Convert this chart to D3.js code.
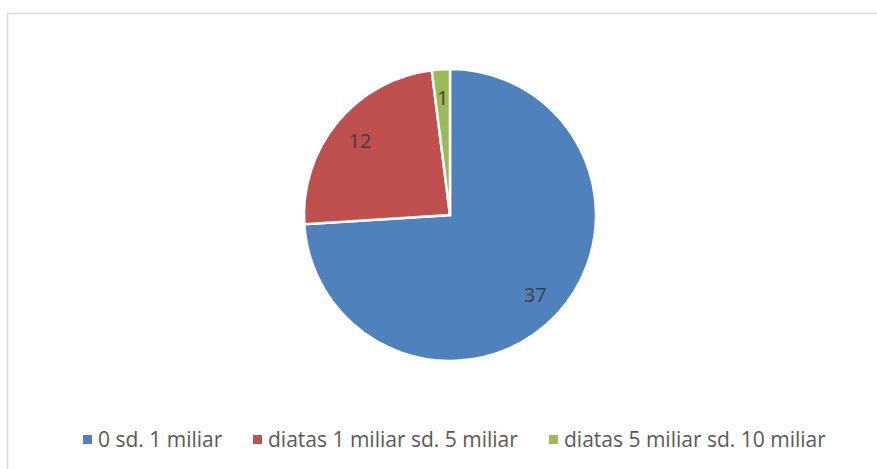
<!DOCTYPE html>
<html>
<head>
<meta charset="utf-8">
<script src="https://cdn.jsdelivr.net/npm/d3@7"></script>
<style>
  body { margin: 0; background: #fff; }
  svg { display: block; font-family: "Open Sans", sans-serif; }
</style>
</head>
<body>
<div id="chart"></div>
<script>
// data
const categories = ["0 sd. 1 miliar", "diatas 1 miliar sd. 5 miliar", "diatas 5 miliar sd. 10 miliar"];
const values = [37, 12, 1];
const colors = ["#4F81BD", "#C0504D", "#9BBB59"];

const width = 877, height = 469;
const cx = 450, cy = 215, radius = 146;

const svg = d3.select("#chart").append("svg")
  .attr("width", width).attr("height", height);

// chart frame
svg.append("rect")
  .attr("x", 7.5).attr("y", 13.5)
  .attr("width", width + 10).attr("height", height + 10)
  .attr("fill", "none").attr("stroke", "#d9d9d9").attr("stroke-width", 1.5);

const pie = d3.pie().sort(null).value(d => d);
const arcs = pie(values);

const arc = d3.arc().innerRadius(0).outerRadius(radius);
const labelArc = d3.arc().innerRadius(radius * 0.8).outerRadius(radius * 0.8);

const g = svg.append("g").attr("transform", "translate(" + cx + "," + cy + ")");

g.selectAll("path")
  .data(arcs)
  .enter()
  .append("path")
  .attr("d", arc)
  .attr("fill", (d, i) => colors[i])
  .attr("stroke", "#fff")
  .attr("stroke-width", 2.5)
  .attr("stroke-linejoin", "miter");

g.selectAll("text.lbl")
  .data(arcs)
  .enter()
  .append("text")
  .attr("class", "lbl")
  .attr("transform", d => "translate(" + labelArc.centroid(d) + ")")
  .attr("text-anchor", "middle")
  .attr("dy", "0.35em")
  .attr("font-size", 20)
  .attr("fill", "#404040")
  .text(d => d.data);

// legend
const legendX = [83, 253, 549];
const legend = svg.append("g");
const items = legend.selectAll("g")
  .data(categories)
  .enter()
  .append("g")
  .attr("transform", (d, i) => "translate(" + legendX[i] + ",435)");

items.append("rect")
  .attr("width", 9).attr("height", 9)
  .attr("fill", (d, i) => colors[i]);

items.append("text")
  .attr("x", 15).attr("y", 4.5)
  .attr("dy", "0.35em")
  .attr("font-size", 21)
  .attr("fill", "#595959")
  .text(d => d);
</script>
</body>
</html>
